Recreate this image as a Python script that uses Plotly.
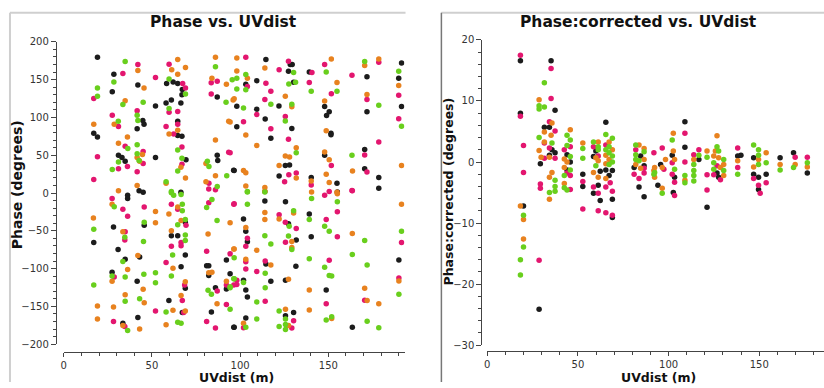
import plotly.graph_objects as go

# ---------------- data: (UVdist [m], phase [deg]) per correlation colour ----------------
phase_black = [
    (19.1,179.5),(28.4,157),(58.3,145),(62,147),(64.6,145),(67.2,137),(67,130),(42,143),(27.5,134),
    (52,115),(58,119),(61,123),(66.4,119),(44.8,96),(45.5,91),(41.6,85),(17,79),(19.1,74),(64.6,95),
    (64.6,76),(67,75),(87,127),(31,50),(33,47),(34.8,42),(52,47),(69.3,44),(87,50),(87.3,43),(96.3,30),
    (42.7,3),(45,1),(66.4,1),
    (114.6,176.5),(128.4,170),(129.5,170),(191.5,172),(127.4,161),(109.4,148.7),(103.2,144),(130.3,146.5),
    (139.2,160.2),(171.9,153.8),(189.9,151.7),(191.5,114.5),(122,115.3),(109.4,111),(98.1,114.9),
    (114.2,97.8),(129.3,85.4),(117.4,72.6),(98.1,87.6),(147.9,114.5),(150.5,107.7),(149,102.5),
    (151.5,79),(151.5,77),(171.9,107.7),(147.9,50),(170.6,57.6),(125.6,36.3),(128,37.2),(96.6,29.9),
    (122.1,22.6),(140.3,20.5),(154.9,12.8),(170.6,32),(178.6,20.5),(178.6,6.4),
    (36.2,-3),(36.2,-7.3),(17,-65.4),(28.2,-44.9),(45.6,-42.7),(30.8,-74.8),(34.8,-87.6),(43,-84.6),
    (27.4,-104.7),(41.6,-116.7),(33.5,-172.2),(42,-164.5),(68.9,-38.5),(61,-56.4),(64.6,-56.4),
    (68.9,-82),(66.5,-97.4),(68.9,-126),(59.6,-142.3),(67.2,-158.1),(81,-96.2),(82.2,-96.2),(82.2,-109),
    (92.2,-88.5),(94.3,-106.9),(92.2,-126.9),(86,-125.2),(83.7,-157.3),(96.4,-177.4),
    (114,-10.7),(125.7,-11.5),(155.1,1.3),(101.9,-34.2),(103.2,-50.4),(104.1,-64.5),(127.4,-40.6),
    (139.2,-27.8),(140.3,-57.7),(131.8,-62),(114.6,-94),(101.9,-115.4),(103.2,-128.2),(104.1,-137.6),
    (117.4,-116.7),(125.7,-115.4),(131.6,-97),(148.8,-128.2),(190,-88.5),(130.3,-158.1),(125.7,-162.4),
    (103.2,-165.4),(96.6,-177.4),(163.6,-177.4),
]
phase_magenta = [
    (42,170),(59.7,170.5),(33.5,158),(52,153),(67.4,145),(69,139),(17,125),(59.7,107),(64.6,108),
    (41.6,109),(27.5,103),(31,88),(64.6,91),(58,88),(62.3,78),(83.6,146),(87,148),(83.6,131),(93.5,54),
    (34.8,62),(45,55),(45,39),(19.1,48),(31,32),(36.1,35),(41.6,28),(67,61),(67,38),(82.3,13),(17,18),
    (103.2,179.5),(127.4,174.3),(147.9,170),(178.6,173),(122.1,163.2),(114.6,145.3),(104.1,141),
    (140.7,159.4),(139.2,146.1),(151.7,131.2),(163.4,155.9),(171.9,123.9),(189.9,129.4),(189.9,98.3),
    (117.4,134.6),(114,123.9),(109.4,103.8),(125.6,101.2),(117.4,85),(127.4,71.3),(101.9,94.4),
    (178.6,67.5),(170.6,50.4),(151.7,36.3),(127.6,24.3),(131.8,26.5),(125.2,14.9),(140.3,10.6),
    (171.9,27.7),(163.4,3.4),(114,2.1),(150.5,2.1),(94.3,53.4),
    (27.4,-7.3),(33.5,-21.4),(36.2,-30.8),(45.6,-18.4),(34.8,-51.3),(34.6,-62),(28.6,-111.1),
    (28.2,-170.1),(34.6,-176.5),(52,-156),(61,-15),(64.6,-21.4),(69.3,-42.7),(66.5,-65.4),(66.5,-69.7),
    (61,-70.5),(58,-91.9),(68.5,-121.8),(67.2,-142.3),(68,-158),(82.2,5.5),(82.2,-12.8),(86,4.3),
    (96.4,-15),(81,-77),(94.3,-80.4),(87,-129.5),(92.2,-121.8),(96.4,-121.8),(92.2,-147.4),(81,-170.1),
    (86,-178.6),
    (96.6,-14.1),(147.9,-3),(155.1,-24.8),(163.6,3),(191.5,-65.4),(104.1,-59.8),(122.1,-28.6),
    (125.6,-38.5),(131.8,-47),(148.8,-35),(155.1,-57.7),(125.7,-65),(103.2,-70.5),(103.2,-91),
    (103.2,-100.4),(114.2,-89.8),(109.4,-103.8),(98.1,-115.4),(98.1,-121),(114.2,-143.2),(150.5,-88.9),
    (148.8,-146.6),(170.6,-141.9),(190,-112.4),(130.3,-168.8),(129.3,-178.6),(101.9,-178.2),
]
phase_orange = [
    (42,162),(64.6,176.5),(69,166),(61.2,163),(64.6,157),(45.5,139),(34.8,122),(28.6,91),(17,91),
    (36.1,74),(64.6,83),(59.7,78),(86,179.5),(84,152),(92.2,144),(96,123),(93.5,95),(86,70),(31,66),
    (44.6,51),(41.6,47),(43,42),(66.4,34),(69,20),(80.6,39),(86,23),(80.6,15),(41.6,10),(58,13),(31,3),
    (98.1,178.6),(151.7,177.3),(170.6,168.8),(178.6,177.3),(98.1,161.5),(104.1,151.7),(114,165.3),
    (154.9,146.1),(171.9,130.3),(189.9,142.3),(96.6,124.7),(125.6,128.2),(129.3,114),(103.2,76.9),
    (94.3,94),(109.4,62.8),(147.9,121.8),(148.8,82.4),(131.8,59.8),(125.6,49.1),(128,47.8),(147.9,54.2),
    (150.5,44),(191.5,36.3),(122.1,36.3),(101.9,29.9),(103.2,26.9),(131.8,20),(140.3,15.8),(148.8,24.8),
    (150.5,14.1),(163.7,29),(114,7.2),(103.2,9.4),(154.9,1.2),
    (27.4,-15),(16.8,-32.9),(33.5,-51.3),(36.2,-101.3),(42,-82.5),(27.4,-116.7),(45,-127.4),
    (34.8,-134.6),(45.6,-145.3),(19.1,-149.6),(19.1,-166.7),(28.2,-150.9),(33.5,-175.2),(43,-179.9),
    (52,-24.4),(52,-39.3),(59.6,-27.8),(64.6,-18.4),(66.5,-36.3),(61,-50),(61.9,-99.6),(68.9,-117.5),
    (66.5,-135.5),(61.9,-155.1),(68.9,-156),(58,-174.4),(94.3,-39.3),(81.8,-54.3),(82.2,-105.6),
    (84,-104.7),(96.4,-74),(92.2,-116.7),(86.9,-146.6),
    (114,2.5),(140.5,1.3),(155.1,-1),(191.5,-15),(103.2,-45.7),(114,-25.7),(114,-35),(122.1,-34.2),
    (130.3,-26.5),(129.3,-64.1),(129.3,-72),(109.4,-75.7),(96.6,-74),(103.2,-87.6),(117.4,-95.3),
    (127.4,-114.1),(139.2,-128.2),(139.2,-154.7),(163.6,-53.4),(170.6,-126.1),(172,-142.3),
    (178.6,-146.6),(190,-116.3),(125.7,-153.9),(127.4,-175.2),(101.9,-172.2),(151.9,-166),
]
phase_green = [
    (34.8,174),(28.4,147),(59.7,151),(69,131),(19.1,139),(19.1,128),(33.5,117),(45,120),(59.7,112),
    (41.6,103),(42,96),(30.9,95),(86,167),(95.5,150),(92,120),(36.3,59),(41.6,64),(41.6,52),(31,41),
    (42.7,43),(27.5,31),(64.6,57),(67,46),(64.6,29),(81.4,42),(82.3,35),(92.4,23),(87,8.5),(58,15),(61,2),
    (170.6,173.9),(103.2,156.8),(98.1,151.7),(130.3,159.4),(127.6,144.4),(131.4,146.5),(98.1,137.6),
    (103.2,136.7),(140.3,134.6),(148.8,160.2),(154.9,134.6),(189.9,161),(191.5,88.4),(129.3,117.5),
    (117.4,117.5),(101.9,112.4),(125.6,95.3),(178.6,116.2),(131.8,53.4),(163.4,50),(104.1,2.1),
    (28.6,-18),(17,-47.9),(34.6,-58.6),(45.6,-38.5),(45.2,-64.1),(33.5,-90.6),(27.4,-109.8),
    (34.8,-111.1),(45.4,-107.3),(34.8,-143.2),(43,-139.8),(17,-121.8),(36.2,-182),(52,-105.6),
    (52,-118.8),(61,0.4),(62.3,-3),(67.2,-23.5),(66.5,-2.1),(67.2,-15),(64.6,-41.9),(68.9,-35),
    (68.9,-55.6),(68.9,-62.8),(61.7,-82),(61,-109.8),(58,-157.3),(64.6,-171),(66.5,-172.2),(84,-8.6),
    (81,-19.2),(86.9,-36.3),(96.4,-113.3),(81.8,-128.6),(83.7,-133.8),(94.3,-125.2),(94.3,-153.9),
    (104.1,1.3),(104.1,-15),(114,1.3),(140.5,-7.3),(155.1,-11.5),(191.5,-50.4),(127.8,-44),
    (130.3,-23.5),(139.2,-35),(147.9,-44),(150.5,-50.4),(127.4,-56.8),(129.3,-74.8),(117.4,-67.5),
    (114,-56.4),(96.6,-85.5),(114.2,-106),(96.6,-113.3),(101.9,-118.4),(94.3,-124),(114.2,-125.2),
    (109.4,-144),(139.2,-86.8),(147.9,-98.3),(150.5,-109),(151.9,-109.8),(163.6,-81.2),(170.6,-62.8),
    (172,-95.3),(190,-133.8),(122.1,-156),(125.7,-166.7),(125.7,-174),(122.1,-176.5),(125.7,-180.4),
    (109.4,-166.7),(103.2,-177.4),(148.8,-168),(151.9,-163.7),(172,-169.7),(178.6,-178.2),
]

corr_black = [
    (18.3,16.6),(18.3,8),(20,-7.2),(28.6,-24.1),(35.2,16.6),(37.4,8.5),(31.5,5.7),(34.3,5.7),(35.7,2),
    (37.4,1.5),(34.3,1.1),(29.3,-0.3),(44,1.2),(45.8,0),(44,-1.3),(52.7,-2),(52.7,-4),(59.9,1.8),
    (58.6,0.9),(62.3,-1.5),(61.2,-3.8),(58.6,-5.1),(62.3,-6.3),(65.4,6.5),(65.4,-1.3),(69,-1.4),
    (67.2,-2.2),(69,-6.1),(69,-9.1),(84.6,1),(86.5,-0.6),(81,-0.9),(83.7,-4.1),(86.5,-5.7),(94.1,-3.8),
    (95.6,-0.4),(102,1.1),(103.3,-2.5),(102.6,-5),(109,6.6),(109,2.4),(116.7,0.4),(121.2,-7.4),
    (126.7,-1.8),(127.6,-2.5),(138.1,1),(139.9,1.1),(146.9,0.7),(146.9,-2),(149.6,-2.5),(149.6,-4.5),
    (153.8,-2),(161.5,0.7),(168.9,1.5),(176.5,-1.8),
]
corr_magenta = [
    (18.3,17.5),(18.3,7.5),(20,2.7),(20,-1.7),(28.6,-16.1),(35.2,15.3),(35.2,10.4),(34.3,6.6),(37.4,5.1),
    (31.5,3.1),(34.3,2.3),(31.5,0.6),(37.4,0.6),(29.3,-3.6),(29.3,-4.3),(45.8,2.5),(42.5,2),(44,-1.8),
    (45.8,-2.2),(45.8,-4.5),(52.7,-3.2),(52.7,-7.7),(58.6,2.5),(61.2,1),(58.6,-4.1),(61.2,-5.1),(61.2,-8),
    (65.4,2.8),(67.8,-3.4),(65.4,-4.1),(69,-4.8),(65.4,-8.3),(69,-8.7),(81.9,2),(86.5,-1),(81,-2),
    (86.5,-1.8),(83.7,-2.7),(91.9,1.5),(96.5,2.3),(97.4,-1.2),(102,-0.1),(102,-2),(103.3,-3.3),
    (103.3,-5.5),(109,4.7),(109,0),(113.9,1.2),(116.7,2),(121.2,-2.1),(121.2,-4.6),(124.9,-2.1),
    (126.7,-0.6),(128.6,-2.9),(138.1,2.3),(138.1,-0.9),(146.9,-2.7),(149.6,-3.8),(150.5,-5.1),
    (153.8,-3.4),(169.8,0.8),(176.5,0.8),
]
corr_orange = [
    (18.3,-7.2),(20,-9.4),(20,-12.6),(28.6,10.2),(35.7,6.4),(31.5,4.9),(35.2,4.4),(31.5,3.3),(28.6,1.9),
    (29.7,0.8),(34.3,0.8),(35.7,-1.7),(34.3,-2.5),(34.3,-6.1),(45.8,5.3),(42.5,0.5),(44,0),(42.5,-0.9),
    (42.5,-3.5),(52.7,3.1),(61.2,3.3),(59.9,0.7),(61.2,0.2),(58.6,-1.7),(61.2,-2.5),(67.2,3.3),(69,2),
    (65.4,1.1),(67.2,0.4),(65.4,-0.3),(65.4,-2.7),(83.7,2.8),(86.5,2.2),(86.5,0.4),(81.9,-0.4),
    (84.6,-1),(91.9,-1.4),(92.3,-0.9),(92.3,-2.5),(96.5,-0.9),(98.3,0.4),(96.5,-4.3),(102.6,4.7),
    (102.6,1.8),(103.3,0.4),(109,-3),(113.9,0.4),(121.2,1.8),(124.9,1),(126.7,4.3),(127.6,0.7),
    (128.6,-0.9),(130.4,-0.4),(130.4,-2.2),(125.8,1.8),(138.1,0.2),(146.9,-0.8),(149.6,0.4),
    (153.8,1.5),(161.5,-0.4),(169.8,-0.4),(176.5,-0.8),
]
corr_green = [
    (20,-8.7),(20,-13.9),(18.3,-16),(18.3,-18.5),(31.5,13),(28.6,9.2),(31.5,9),(28.6,8.7),(28.6,4),
    (35.7,3.1),(37.4,-3),(37.4,-4),(34.3,-5),(37.4,-4.8),(44,4.4),(45.8,3.6),(44,2.7),(45.8,0.9),
    (45.8,-1.3),(42.5,-2.2),(42.5,-4.2),(44,-4.6),(52.7,2.2),(52.7,0.6),(58.6,3.3),(61.2,2.5),(61.2,2),
    (59.9,-0.6),(65.4,4.5),(69,3.9),(67.2,2.5),(65.4,2),(67.2,1.5),(69,1),(69,0),(67.2,-0.4),(81.9,2.8),
    (81.9,1.2),(86.5,1.7),(81.9,0.4),(83.7,0.2),(91.9,-2),(92.3,-1.7),(96.5,-5.1),(102,3.6),(103.3,-1.2),
    (109,-2.2),(109,-3.4),(113.9,-0.4),(113.9,-1.4),(113.9,-2.2),(113.9,-3.1),(116.7,1.1),(121.2,0.8),
    (126.7,2.5),(124.9,-0.1),(124.9,-1.2),(127.6,1.8),(130.4,0.4),(130.4,-1.4),(138.1,-2),(146.9,2.8),
    (149.6,2),(149.6,1.1),(149.6,-0.4),(153.8,-0.1),(161.5,-1.3),(168.9,-0.9),(176.5,-0.1),
]

left_yticks = [-200, -150, -100, -50, 0, 50, 100, 150, 200]
right_yticks = [-30, -20, -10, 0, 10, 20]
x_ticks = [0, 50, 100, 150]

COLORS = {"black": "#1c1c1c", "magenta": "#e3166f", "orange": "#e8821f", "green": "#69cf1d"}

W, H = 824, 388
fig = go.Figure()

def add(pts, color, xa, ya):
    fig.add_trace(go.Scatter(
        x=[p[0] for p in pts], y=[p[1] for p in pts], mode="markers",
        marker=dict(size=5.5, color=color, line=dict(width=0)),
        xaxis=xa, yaxis=ya, showlegend=False, hoverinfo="skip"))

for pts, c in [(phase_black, "black"), (phase_magenta, "magenta"), (phase_orange, "orange"), (phase_green, "green")]:
    add(pts, COLORS[c], "x", "y")
for pts, c in [(corr_black, "black"), (corr_magenta, "magenta"), (corr_orange, "orange"), (corr_green, "green")]:
    add(pts, COLORS[c], "x2", "y2")

FONT = "DejaVu Sans"
axc = "#444444"
tickfont = dict(family=FONT, size=10, color="#333333")

def xax(domain, rng, pos):
    return dict(domain=domain, range=rng, anchor="free", position=pos, showgrid=False, zeroline=False,
                showline=True, linecolor=axc, linewidth=1, ticks="outside", ticklen=4, tickcolor=axc,
                tickvals=x_ticks, tickfont=tickfont, ticklabelstandoff=0,
                minor=dict(dtick=10, ticks="outside", ticklen=3, tickcolor=axc))

def yax(domain, rng, pos, tv, mdt):
    return dict(domain=domain, range=rng, anchor="free", position=pos, showgrid=False, zeroline=False,
                showline=True, linecolor=axc, linewidth=1, ticks="outside", ticklen=5, tickcolor=axc,
                tickvals=tv, tickfont=tickfont,
                minor=dict(dtick=mdt, ticks="outside", ticklen=3, tickcolor=axc))

fig.update_layout(
    width=W, height=H, margin=dict(l=0, r=0, t=0, b=0),
    paper_bgcolor="white", plot_bgcolor="white",
    xaxis=xax([61 / W, 403 / W], [0, 193.2], 1 - 357 / H),
    yaxis=yax([1 - 349 / H, 1 - 37 / H], [-200, 200], 53 / W, left_yticks, 10),
    xaxis2=xax([486 / W, 1.0], [0, 185.7], 1 - 356 / H),
    yaxis2=yax([1 - 350 / H, 1 - 35 / H], [-30, 20], 480 / W, right_yticks, 2),
)

def ann(text, px, py, size, angle=0):
    fig.add_annotation(text=text, x=px / W, y=1 - py / H, xref="paper", yref="paper",
                       xanchor="center", yanchor="middle", showarrow=False, textangle=angle,
                       font=dict(family=FONT, size=size, color="#111111"))

ann("<b>Phase vs. UVdist</b>", 221, 17, 15.5)
ann("<b>Phase:corrected vs. UVdist</b>", 638, 17, 15.5)
ann("<b>UVdist (m)</b>", 234, 383.5, 12.5)
ann("<b>UVdist (m)</b>", 658, 383, 12.5)
ann("<b>Phase (degrees)</b>", 14, 184, 14, -90)
ann("<b>Phase:corrected (degrees)</b>", 447, 191, 12.5, -90)

# panel frames
def line(x0, y0, x1, y1, color, w):
    fig.add_shape(type="line", xref="paper", yref="paper", x0=x0 / W, y0=1 - y0 / H, x1=x1 / W, y1=1 - y1 / H,
                  line=dict(color=color, width=w))

line(7, 7, 404, 7, "#cfcfcf", 2)
line(7, 7, 7, 388, "#cfcfcf", 2)
line(440, 7, 824, 7, "#cfcfcf", 2)
line(440, 7, 440, 388, "#777777", 1.5)

fig.write_html(
    "out.html",
    config={"displayModeBar": False},
    post_script="document.body.style.margin='0';document.body.style.overflow='hidden';",
)
